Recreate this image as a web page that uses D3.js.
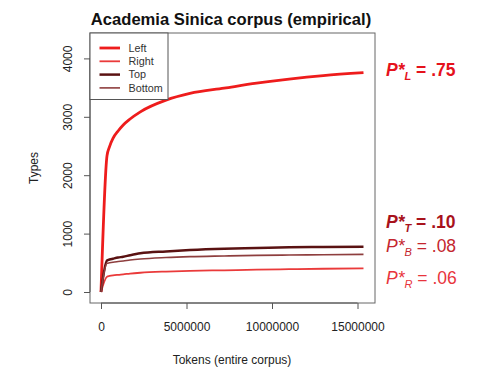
<!DOCTYPE html>
<html>
<head>
<meta charset="utf-8">
<script src="https://cdn.jsdelivr.net/npm/d3@7/dist/d3.min.js"></script>
<style>
  html, body { margin: 0; padding: 0; background: #fff; }
  svg { display: block; font-family: "Liberation Sans", Arial, sans-serif; }
</style>
</head>
<body>
<svg id="chart" width="479" height="368"></svg>
<script>
// ---- data ----
const tokens = [0, 350000, 500000, 700000, 1000000, 1300000, 1700000, 2300000, 3800000, 5200000, 7200000, 9100000, 11000000, 13000000, 15350000];
const leftTypes   = [0, 2330, 2490, 2630, 2757, 2860, 2962, 3085, 3285, 3400, 3490, 3575, 3645, 3705, 3755];
const rightTypes  = [0, 262, 274, 285, 295, 303, 316, 330, 350, 362, 372, 382, 390, 398, 405];
const topTypes    = [0, 540, 556, 570, 590, 604, 630, 663, 695, 718, 740, 752, 765, 770, 776];
const bottomTypes = [0, 491, 500, 510, 521, 531, 547, 565, 590, 605, 617, 627, 633, 638, 645];
const seriesNames = ["Left", "Right", "Top", "Bottom"];
const xTicks = [0, 5000000, 10000000, 15000000];
const yTicks = [0, 1000, 2000, 3000, 4000];
const pLabels = ["L", "T", "B", "R"];
const pValues = [".75", ".10", ".08", ".06"];

// ---- styles ----
const seriesStyle = {
  Left:   { color: "#ee1c1c", width: 2.8 },
  Right:  { color: "#ea3a3a", width: 1.8 },
  Top:    { color: "#5a1212", width: 2.5 },
  Bottom: { color: "#8e3e3e", width: 1.6 }
};
const seriesValues = { Left: leftTypes, Right: rightTypes, Top: topTypes, Bottom: bottomTypes };

const svg = d3.select("#chart");
const x = d3.scaleLinear().domain([0, 15000000]).range([101, 357.5]);
const y = d3.scaleLinear().domain([0, 4000]).range([292, 58.4]);

const box = { x0: 90, x1: 375, y0: 33, y1: 303 };

// title
svg.append("text")
  .attr("x", 231).attr("y", 25)
  .attr("text-anchor", "middle")
  .attr("font-weight", "bold").attr("font-size", 16.6)
  .attr("fill", "#111")
  .text("Academia Sinica corpus (empirical)");

// lines
const line = d3.line().x((d, i) => x(tokens[i])).y(d => y(d)).curve(d3.curveMonotoneX);
seriesNames.forEach(name => {
  svg.append("path")
    .datum(seriesValues[name])
    .attr("d", line)
    .attr("fill", "none")
    .attr("stroke", seriesStyle[name].color)
    .attr("stroke-width", seriesStyle[name].width)
    .attr("stroke-linejoin", "round");
});

// plot box
svg.append("rect")
  .attr("x", box.x0).attr("y", box.y0)
  .attr("width", box.x1 - box.x0).attr("height", box.y1 - box.y0)
  .attr("fill", "none").attr("stroke", "#666").attr("stroke-width", 1);

// x axis
const xAxis = d3.axisBottom(x).tickValues(xTicks).tickFormat(d3.format("d")).tickSize(6).tickPadding(13);
const gx = svg.append("g").attr("transform", `translate(0,${box.y1})`).call(xAxis);
gx.select(".domain").attr("d", `M${x(xTicks[0])},0H${x(xTicks[xTicks.length-1])}`).attr("stroke", "#555");
gx.selectAll(".tick line").attr("stroke", "#555");
gx.selectAll(".tick text").attr("font-size", 12).attr("fill", "#222").attr("font-family", "Liberation Sans, Arial, sans-serif");

// y axis
const yAxis = d3.axisLeft(y).tickValues(yTicks).tickFormat(d3.format("d")).tickSize(6);
const gy = svg.append("g").attr("transform", `translate(${box.x0},0)`).call(yAxis);
gy.select(".domain").attr("d", `M0,${y(yTicks[0])}V${y(yTicks[yTicks.length-1])}`).attr("stroke", "#555");
gy.selectAll(".tick line").attr("stroke", "#555");
gy.selectAll(".tick text")
  .attr("font-size", 12).attr("fill", "#222").attr("font-family", "Liberation Sans, Arial, sans-serif")
  .attr("x", null).attr("dy", null)
  .attr("text-anchor", "middle")
  .attr("transform", "translate(-18,0) rotate(-90)");

// axis titles
svg.append("text")
  .attr("x", 232).attr("y", 364)
  .attr("text-anchor", "middle").attr("font-size", 12).attr("fill", "#222")
  .text("Tokens (entire corpus)");
svg.append("text")
  .attr("transform", "translate(38,168) rotate(-90)")
  .attr("text-anchor", "middle").attr("font-size", 12).attr("fill", "#222")
  .text("Types");

// legend
const lg = svg.append("g");
lg.append("rect").attr("x", box.x0).attr("y", box.y0).attr("width", 78).attr("height", 66.5)
  .attr("fill", "#fff").attr("stroke", "#555").attr("stroke-width", 1);
seriesNames.forEach((name, i) => {
  const cy = 48 + i * 13.3;
  lg.append("line").attr("x1", 99.5).attr("x2", 120).attr("y1", cy).attr("y2", cy)
    .attr("stroke", seriesStyle[name].color).attr("stroke-width", seriesStyle[name].width);
  lg.append("text").attr("x", 128.5).attr("y", cy + 3.8)
    .attr("font-size", 10.8).attr("fill", "#333").text(name);
});

// annotations
const annStyle = [
  { yb: 76,  color: "#e5121c", bold: true },
  { yb: 228, color: "#a8121c", bold: true },
  { yb: 252, color: "#c4262e", bold: false },
  { yb: 284, color: "#e8343c", bold: false }
];
pLabels.forEach((lab, i) => {
  const st = annStyle[i];
  const t = svg.append("text")
    .attr("x", 386).attr("y", st.yb)
    .attr("font-size", 17.5).attr("fill", st.color)
    .attr("font-weight", st.bold ? "bold" : "normal");
  t.append("tspan").attr("font-style", "italic").text("P*");
  t.append("tspan").attr("font-style", "italic").attr("font-size", 11).attr("dy", 4).text(lab);
  t.append("tspan").attr("dy", -4).text(" = " + pValues[i]);
});
</script>
</body>
</html>
